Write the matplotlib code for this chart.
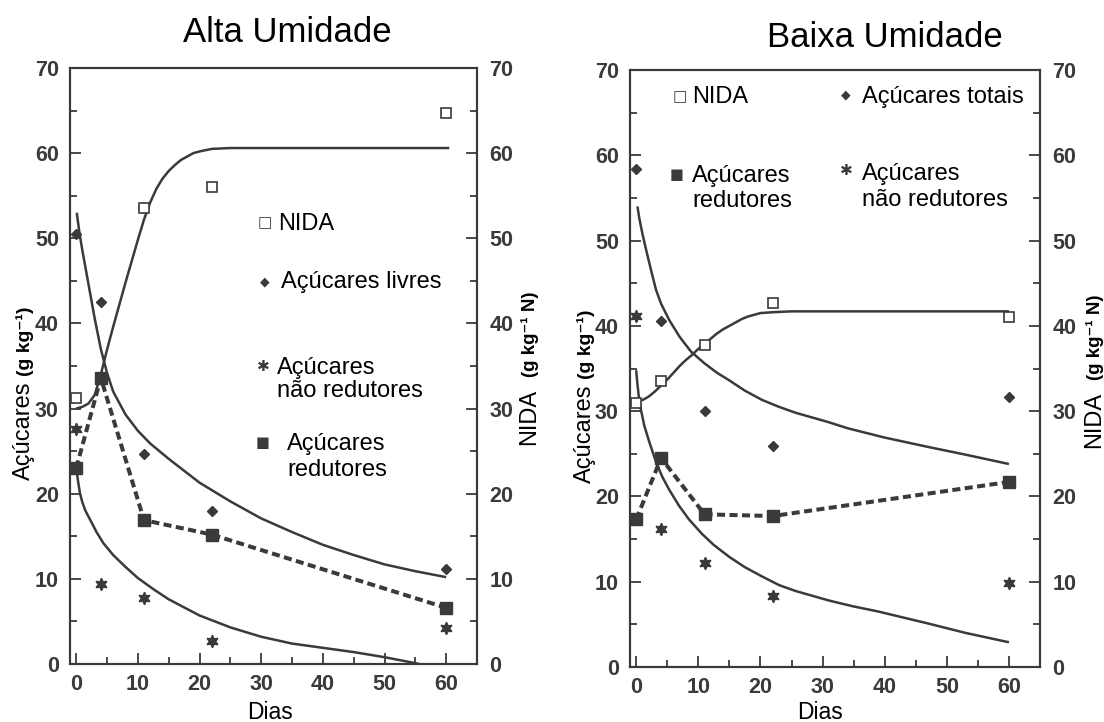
import matplotlib.pyplot as plt
from matplotlib.ticker import MultipleLocator

# ---- data ---------------------------------------------------------------
dias = [0, 4, 11, 22, 60]

# Alta Umidade
alta_nida_dias = [0, 11, 22, 60]
alta_nida = [31.3, 53.6, 56.0, 64.7]
alta_livres = [50.5, 42.5, 24.7, 18.0, 11.2]
alta_nao_red = [27.6, 9.4, 7.8, 2.7, 4.2]
alta_red = [23.0, 33.6, 16.9, 15.2, 6.6]

# fitted curves
alta_nida_fit_x = [0, 1, 2, 3, 4, 5, 6, 7, 8, 9, 10, 11, 12, 13, 14, 15, 16, 17, 18, 19, 20, 22,
                   25, 30, 60.5]
alta_nida_fit_y = [30.0, 30.2, 30.6, 31.6, 34.0, 36.9, 39.6, 42.2, 44.8, 47.3, 49.8, 52.2, 54.2,
                   55.8, 57.0, 57.9, 58.6, 59.2, 59.6, 60.0, 60.2, 60.5, 60.6, 60.6, 60.6]
alta_livres_fit_x = [0.1, 0.5, 1, 2, 3, 4, 5, 6, 8, 10, 12, 15, 20, 25, 30, 35, 40, 45, 50, 55, 60]
alta_livres_fit_y = [53.0, 50.8, 48.6, 44.6, 40.6, 37.0, 34.2, 32.0, 29.3, 27.4, 25.9, 24.1, 21.3,
                     19.1, 17.1, 15.5, 14.0, 12.8, 11.7, 10.9, 10.2]
alta_nao_fit_x = [0, 0.3, 0.6, 1, 1.5, 2.3, 3.3, 4.4, 6, 8, 10, 12.5, 15, 20, 25, 30, 35, 40, 45,
                  50, 55, 57.5]
alta_nao_fit_y = [23.1, 21.5, 20.1, 19.0, 18.0, 16.9, 15.5, 14.2, 12.8, 11.4, 10.1, 8.8, 7.6, 5.7,
                  4.3, 3.2, 2.4, 1.9, 1.4, 0.8, 0.1, -0.3]

# Baixa Umidade
baixa_nida = [31.0, 33.5, 37.7, 42.7, 41.0]
baixa_totais = [58.4, 40.6, 30.0, 25.9, 31.7]
baixa_nao_red = [41.2, 16.2, 12.2, 8.3, 9.8]
baixa_red = [17.3, 24.5, 17.9, 17.7, 21.7]

baixa_nida_fit_x = [0, 1, 2, 3, 4, 5, 6, 7, 8, 9, 10, 11, 12, 13, 14, 15, 16, 17, 18, 19, 20, 22,
                    25, 30, 60]
baixa_nida_fit_y = [31.2, 31.3, 31.7, 32.3, 33.0, 33.7, 34.5, 35.3, 36.0, 36.6, 37.3, 37.9, 38.5,
                    39.1, 39.6, 40.0, 40.4, 40.8, 41.1, 41.3, 41.5, 41.6, 41.7, 41.7, 41.7]
baixa_totais_fit_x = [0.2, 0.5, 1, 1.6, 2.5, 3.2, 4, 5.3, 7, 8.8, 11, 13, 15, 17.5, 20.3, 23, 25.7,
                      31, 34, 40, 47, 53, 60]
baixa_totais_fit_y = [54.0, 52.6, 50.8, 48.9, 46.2, 44.2, 42.6, 40.7, 38.7, 37.0, 35.6, 34.5, 33.6,
                      32.4, 31.3, 30.5, 29.8, 28.7, 28.0, 26.9, 25.8, 24.9, 23.8]
baixa_nao_fit_x = [0, 0.15, 0.4, 0.75, 1.3, 2.1, 3.2, 4.2, 5.3, 6.9, 8.5, 10.6, 12.5, 15, 17.5,
                   20.3, 23, 25.7, 31, 35, 39, 43, 47, 53, 60]
baixa_nao_fit_y = [34.8, 33.5, 31.8, 30.2, 28.3, 26.4, 24.0, 22.3, 20.8, 18.9, 17.3, 15.6, 14.3,
                   12.9, 11.7, 10.6, 9.6, 8.9, 7.8, 7.1, 6.5, 5.8, 5.1, 4.0, 2.9]

# ---- style ----------------------------------------------------------------
FONT = ['Liberation Sans', 'DejaVu Sans']
SYMB = ['DejaVu Sans']
INK = '#3a3a3a'
W, H = 1104, 722

plt.rcParams['font.family'] = FONT


def px(x, y):
    """pixel position (from top-left) -> figure fraction"""
    return x / W, 1 - y / H


def style_axes(ax, ax2):
    for a in (ax, ax2):
        a.set_xlim(-1, 65)
        a.set_ylim(0, 70)
        for s in a.spines.values():
            s.set_linewidth(1.5)
            s.set_color(INK)
    ax.xaxis.set_major_locator(MultipleLocator(10))
    ax.xaxis.set_minor_locator(MultipleLocator(5))
    for a in (ax, ax2):
        a.yaxis.set_major_locator(MultipleLocator(10))
        a.yaxis.set_minor_locator(MultipleLocator(5))
    ax.tick_params(which='both', direction='in', top=False, right=False,
                   color=INK, width=1.3, labelsize=15.5, labelcolor=INK)
    ax.tick_params(which='major', length=8)
    ax.tick_params(which='minor', length=5)
    ax.tick_params(axis='x', pad=7)
    ax.tick_params(axis='y', pad=8)
    ax2.tick_params(which='both', direction='in', color=INK, width=1.3,
                    labelsize=15.5, labelcolor=INK, pad=9)
    ax2.tick_params(which='major', length=8)
    ax2.tick_params(which='minor', length=5)
    for lbl in ax.get_xticklabels() + ax.get_yticklabels() + ax2.get_yticklabels():
        lbl.set_fontweight('bold')


def key(ax, x, y, symbol, size, lines, tx, baselines):
    """hand-placed key entry; positions in pixels of the whole figure"""
    fx, fy = px(x, y)
    ax.figure.text(fx, fy, symbol, fontsize=size, family=SYMB, color=INK,
                   ha='center', va='center_baseline')
    for line, b in zip(lines, baselines):
        bx, by = px(tx, b)
        ax.figure.text(bx, by, line, fontsize=17, ha='left', va='baseline')


def y_labels(xl, yl_bottom, xr, yr_bottom):
    x, y = px(xl, yl_bottom)
    fig.text(x, y, 'Açúcares', rotation=90, fontsize=17, ha='center', va='bottom')
    x, y = px(xl + 1, yl_bottom - 104)
    fig.text(x, y, '(g kg⁻¹)', rotation=90, fontsize=14, fontweight='bold',
             ha='center', va='bottom')
    x, y = px(xr, yr_bottom)
    fig.text(x, y, 'NIDA', rotation=90, fontsize=17, ha='center', va='bottom')
    x, y = px(xr + 1, yr_bottom - 68)
    fig.text(x, y, '(g kg⁻¹ N)', rotation=90, fontsize=13.5, fontweight='bold',
             ha='center', va='bottom')


fig = plt.figure(figsize=(W / 100, H / 100), dpi=100)

line_kw = dict(color=INK, lw=1.8, solid_capstyle='butt')
dash_kw = dict(color=INK, lw=2.9, ls=(0, (2.0, 1.1)), marker='s', ms=8.5)
open_sq = dict(ls='none', marker='s', ms=7.5, mfc='white', mec=INK, mew=1.2)
diamond = dict(ls='none', marker='D', ms=5.5, color=INK)
star = dict(ls='none', marker=(6, 1, 0), ms=9, color=INK)

# ---- Alta Umidade -----------------------------------------------------------
ax = fig.add_axes([70 / W, 1 - 664 / H, 407 / W, 596 / H])
ax2 = ax.twinx()
ax.plot(alta_livres_fit_x, alta_livres_fit_y, **line_kw)
ax.plot(alta_nao_fit_x, alta_nao_fit_y, **line_kw)
ax2.plot(alta_nida_fit_x, alta_nida_fit_y, **line_kw)
ax.plot(dias, alta_red, **dash_kw)
ax.plot(dias, alta_livres, **diamond)
ax.plot(dias, alta_nao_red, **star)
ax2.plot(alta_nida_dias, alta_nida, **open_sq)
style_axes(ax, ax2)

key(ax, 265, 221, '□', 11, ['NIDA'], 278, [230])
key(ax, 265, 280, '◆', 9, ['Açúcares livres'], 281, [288])
key(ax, 263, 365, '✱', 11, ['Açúcares', 'não redutores'], 277, [374, 397])
key(ax, 263, 441, '■', 10.5, ['Açúcares', 'redutores'], 287, [450, 476])

# ---- Baixa Umidade ----------------------------------------------------------
bx = fig.add_axes([630 / W, 1 - 667 / H, 410 / W, 597 / H])
bx2 = bx.twinx()
bx.plot(baixa_totais_fit_x, baixa_totais_fit_y, **line_kw)
bx.plot(baixa_nao_fit_x, baixa_nao_fit_y, **line_kw)
bx2.plot(baixa_nida_fit_x, baixa_nida_fit_y, **line_kw)
bx.plot(dias, baixa_red, **dash_kw)
bx.plot(dias, baixa_totais, **diamond)
bx.plot(dias, baixa_nao_red, **star)
bx2.plot(dias, baixa_nida, **open_sq)
style_axes(bx, bx2)

key(bx, 680, 95, '□', 11, ['NIDA'], 692, [103])
key(bx, 846, 93, '◆', 9, ['Açúcares totais'], 862, [103])
key(bx, 677, 173, '■', 10.5, ['Açúcares', 'redutores'], 692, [182, 207])
key(bx, 846, 169, '✱', 11, ['Açúcares', 'não redutores'], 862, [180, 206])

# ---- titles and axis labels -------------------------------------------------
fig.text(*px(287, 42), 'Alta Umidade', fontsize=25, ha='center', va='baseline')
fig.text(*px(885, 47), 'Baixa Umidade', fontsize=25, ha='center', va='baseline')
fig.text(*px(270, 719), 'Dias', fontsize=16.5, ha='center', va='baseline')
fig.text(*px(820, 719), 'Dias', fontsize=16.5, ha='center', va='baseline')

y_labels(24, 480, 529, 445)
y_labels(585, 483, 1094, 448)

fig.savefig('out.png', dpi=100, facecolor='white')
